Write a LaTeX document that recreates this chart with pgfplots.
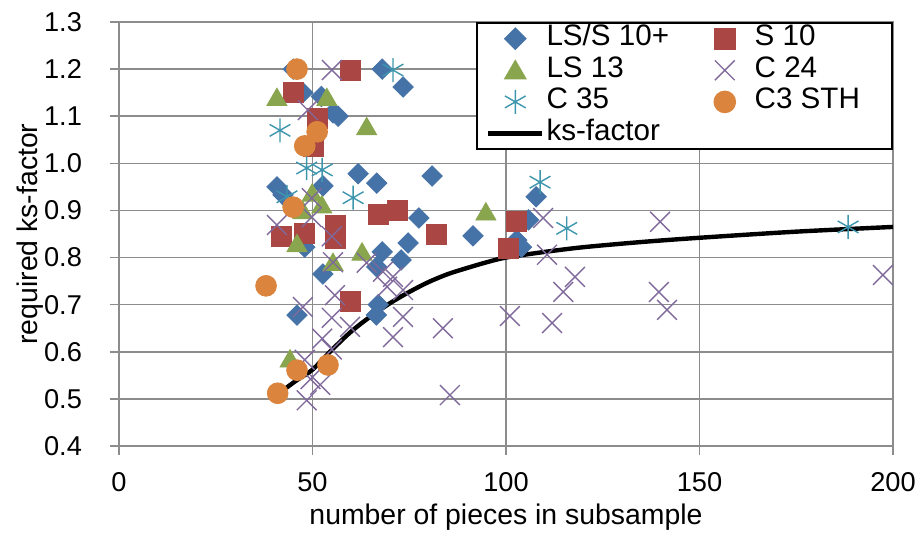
\documentclass[border=0pt]{standalone}
\usepackage{pgfplots}
\pgfplotsset{compat=1.18}
\usepackage{fontspec}
\setmainfont{Liberation Sans}
\definecolor{cBlue}{HTML}{4572A7}
\definecolor{cRed}{HTML}{AA4643}
\definecolor{cGreen}{HTML}{89A54E}
\definecolor{cPurple}{HTML}{80699B}
\definecolor{cCyan}{HTML}{3D96AE}
\definecolor{cOrange}{HTML}{DB843D}
\definecolor{gridc}{HTML}{8C8C8C}
\newcommand{\legbox}[1]{\makebox[63.2pt][l]{#1}}
\pgfplotsset{
  mk/.style={only marks, legend image code/.code={\path (0pt,0pt) (27pt,0pt);\draw[mark repeat=2,mark phase=2,##1] plot coordinates {(0pt,0pt) (13.5pt,0pt) (27pt,0pt)};}},
}
\begin{document}
\begin{tikzpicture}
\begin{axis}[name=ax, scale only axis, width=387pt, height=212pt,
  xmin=0, xmax=200, ymin=0.4, ymax=1.3,
  xtick={0,50,100,150,200},
  ytick={0.4,0.5,0.6,0.7,0.8,0.9,1.0,1.1,1.2,1.3},
  /pgf/number format/assume math mode=true,
  yticklabel style={/pgf/number format/fixed, /pgf/number format/fixed zerofill, /pgf/number format/precision=1, xshift=-10.5pt},
  xticklabel style={yshift=-5pt},
  tick label style={font=\fontsize{13.6}{15}\selectfont},
  grid=major, grid style={gridc, line width=0.8pt},
  axis line style={gridc, line width=0.8pt},
  tick style={gridc, line width=0.8pt},
  tick align=outside, tick pos=left, major tick length=4.5pt,
  legend columns=2, legend cell align=left,
  legend image code/.code={\draw[mark repeat=2,mark phase=2,#1] plot coordinates {(0pt,0pt) (13.5pt,0pt) (27pt,0pt)};},
  legend style={at={(rel axis cs:1,1)}, anchor=north east, draw=black, line width=0.9pt, fill=white,
    font=\fontsize{14.8}{17}\selectfont, inner xsep=4.5pt, inner ysep=0pt,
    nodes={inner xsep=1pt, inner ysep=0pt, text height=11.3pt, text depth=4.5pt},
    /tikz/every even column/.append style={column sep=11pt}},
]
\addplot[mk, mark=square*, mark size=3.6pt, mark options={rotate=45, fill=cBlue, draw=cBlue}] coordinates {
(45,1.20) (47.5,1.15) (68,1.20) (73.4,1.162) (52.3,1.142) (55.3,1.107) (56.6,1.10)
(40.8,0.95) (42.4,0.933) (52.7,0.952) (61.8,0.978) (66.6,0.958) (80.9,0.973)
(77.5,0.884) (74.7,0.831) (68,0.812) (72.9,0.795) (91.5,0.846) (66.6,0.78)
(48,0.822) (52.7,0.765) (46,0.678) (67,0.70) (66.5,0.678)
(107.8,0.929) (105.8,0.88) (102.8,0.837) (104,0.822)};
\addlegendentry{\legbox{LS/S 10+}}
\addplot[mk, mark=square*, mark size=5pt, mark options={fill=cRed, draw=cRed}] coordinates {
(45,1.15) (59.7,1.198) (51.2,1.096) (50.2,1.035) (42,0.844) (48,0.852) (55.8,0.869)
(55.8,0.841) (67,0.891) (72,0.901) (82,0.85) (102.8,0.876) (100.5,0.82) (59.7,0.706)};
\addlegendentry{\legbox{S 10}}
\addplot[mk, mark=triangle*, mark size=5.8pt, mark options={fill=cGreen, draw=cGreen, yshift=-1.2pt}] coordinates {
(40.8,1.14) (53.7,1.14) (64,1.078) (49.9,0.937) (52.4,0.912) (47.5,0.90) (46,0.83)
(55.3,0.79) (62.8,0.812) (94.8,0.897) (44.2,0.585)};
\addlegendentry{\legbox{LS 13}}
\addplot[mk, mark=x, mark size=7pt, mark options={draw=cPurple, line width=0.7pt}] coordinates {
(55,1.198) (48.8,1.113) (49.8,0.926) (49.8,0.886) (40.8,0.869) (55,0.845) (55.3,0.79)
(64,0.789) (68.2,0.77) (70.8,0.759) (69.3,0.738) (73.4,0.731) (55.8,0.72) (47.5,0.695)
(55,0.672) (59.7,0.653) (73.4,0.674) (70.8,0.631) (83.7,0.65) (52.5,0.628) (55,0.605)
(48,0.583) (49.5,0.542) (52,0.53) (48.5,0.497) (85.5,0.508) (101,0.676) (109.6,0.884)
(110.6,0.806) (117.8,0.759) (114.8,0.727) (111.9,0.661) (139.8,0.876) (139.5,0.727)
(141.6,0.689) (197.4,0.763)};
\addlegendentry{\legbox{C 24}}
\addplot[mk, mark=asterisk, mark size=6pt, mark options={draw=cCyan, line width=0.7pt}] coordinates {
(70.8,1.198) (41.6,1.07) (48.5,0.99) (52.5,0.986) (43.4,0.929) (60.5,0.927)
(108.8,0.96) (115.7,0.862) (188.4,0.865)};
\addlegendentry{\legbox{C 35}}
\addplot[mk, mark=*, mark size=5.2pt, mark options={fill=cOrange, draw=cOrange}] coordinates {
(46,1.20) (51.2,1.067) (48,1.037) (45,0.907) (38,0.74) (46,0.561) (54,0.572) (41,0.512)};
\addlegendentry{\legbox{C3 STH}}
\addplot[black, line width=2.2pt, smooth, no marks] coordinates {
(43,0.522) (46,0.54) (50,0.562) (55,0.604) (60,0.643) (65,0.675) (70,0.703) (75,0.727)
(80,0.748) (85,0.765) (90,0.778) (95,0.79) (100,0.80) (110,0.812) (120,0.822)
(135,0.833) (150,0.842) (175,0.855) (200,0.865)};
\addlegendentry{\legbox{ks-factor}}
\end{axis}
\node[rotate=90, font=\fontsize{14.2}{17}\selectfont] at ([xshift=-44.5pt]ax.west) {required ks-factor};
\node[font=\fontsize{14.2}{17}\selectfont] at ([yshift=-35.5pt]ax.south) {number of pieces in subsample};
\pgfresetboundingbox
\path ([xshift=-59.5pt,yshift=-47pt]ax.south west) rectangle ([xshift=13.5pt,yshift=11pt]ax.north east);
\end{tikzpicture}
\end{document}
